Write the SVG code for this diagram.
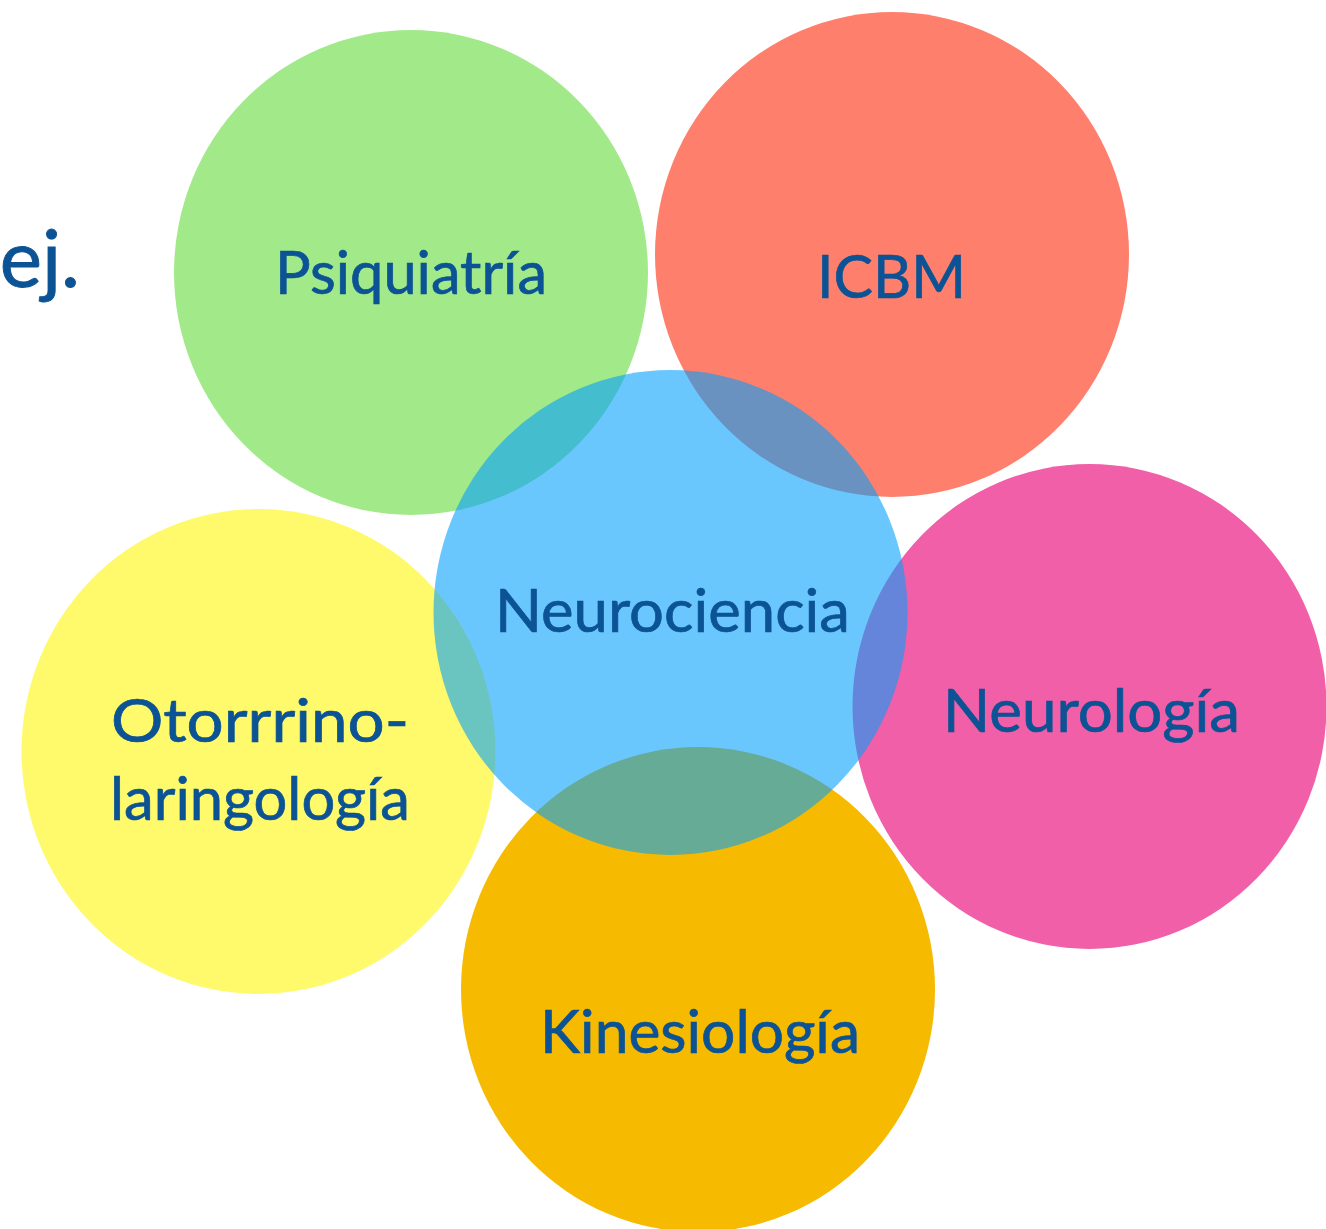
<svg xmlns="http://www.w3.org/2000/svg" width="1326" height="1229" viewBox="0 0 1326 1229">
<style>
.lbl{font-family:Lato,"Open Sans","Liberation Sans",sans-serif;font-size:60px;fill:#0b5394;stroke:#0b5394;stroke-width:0.7;text-anchor:middle}
</style>
<rect width="1326" height="1229" fill="#ffffff"/>
<text x="80" y="287" style="font-family:Lato,'Liberation Sans',sans-serif;font-size:80px;fill:#0b5394;stroke:#0b5394;stroke-width:0.9;text-anchor:end">ej.</text>
<g id="psiquiatria"><ellipse cx="411" cy="272.5" rx="237" ry="242.5" fill="#a2e98a"/></g>
<g id="icbm"><ellipse cx="892" cy="254.5" rx="237" ry="242.5" fill="#fe7f6c"/></g>
<g id="neurologia"><ellipse cx="1089.5" cy="706.5" rx="237" ry="242.5" fill="#f05fa7"/></g>
<g id="otorrino"><ellipse cx="258.5" cy="751.5" rx="237" ry="242.5" fill="#fefa6b"/></g>
<g id="kinesiologia"><ellipse cx="698" cy="989.5" rx="237" ry="242.5" fill="#f6ba00"/></g>
<g id="neurociencia"><ellipse cx="670.5" cy="612.5" rx="237" ry="242.5" fill="#02a0fd" fill-opacity="0.59"/></g>
<g id="connectors"></g>
<g id="labels">
<text class="lbl" x="411" y="294" textLength="272" lengthAdjust="spacingAndGlyphs">Psiquiatría</text>
<text class="lbl" x="891.5" y="298" textLength="149" lengthAdjust="spacingAndGlyphs">ICBM</text>
<text class="lbl" x="672.5" y="632" textLength="355" lengthAdjust="spacingAndGlyphs">Neurociencia</text>
<text class="lbl" x="260" y="742" textLength="298" lengthAdjust="spacingAndGlyphs">Otorrrino-</text>
<text class="lbl" x="260" y="820" textLength="300" lengthAdjust="spacingAndGlyphs">laringología</text>
<text class="lbl" x="700" y="1053" textLength="320" lengthAdjust="spacingAndGlyphs">Kinesiología</text>
<text class="lbl" x="1091.5" y="732" textLength="297" lengthAdjust="spacingAndGlyphs">Neurología</text>
</g>
</svg>
